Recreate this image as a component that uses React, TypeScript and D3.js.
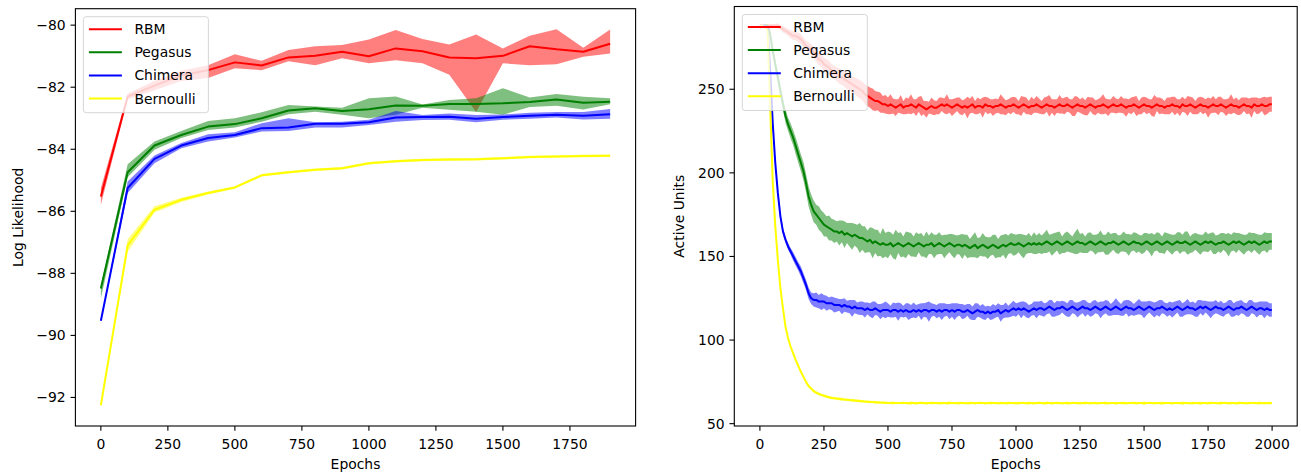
import React from 'react';
import * as d3 from 'd3';

// ---------------- Left panel: Log Likelihood ----------------
const llEpochs = [0, 100, 200, 300, 400, 500, 600, 700, 800, 900, 1000, 1100, 1200, 1300, 1400, 1500, 1600, 1700, 1800, 1900];

const rbmLL = [-85.52, -82.3, -81.95, -81.62, -81.45, -81.2, -81.3, -81.04, -80.99, -80.86, -81.0, -80.75, -80.84, -81.04, -81.07, -80.99, -80.68, -80.78, -80.86, -80.6];
const rbmLLhi = [-85.25, -82.2, -81.8, -81.47, -81.29, -80.94, -81.15, -80.8, -80.68, -80.64, -80.46, -80.16, -80.45, -80.62, -80.3, -80.75, -80.34, -80.13, -80.73, -80.14];
const rbmLLlo = [-85.79, -82.4, -82.1, -81.8, -81.7, -81.39, -81.45, -81.16, -81.29, -81.07, -81.23, -81.13, -81.23, -81.6, -82.8, -81.23, -81.29, -81.26, -81.02, -80.91];

const pegLL = [-88.49, -84.74, -83.88, -83.54, -83.27, -83.19, -83.0, -82.75, -82.68, -82.77, -82.71, -82.59, -82.6, -82.54, -82.54, -82.52, -82.48, -82.4, -82.5, -82.47];
const pegLLhi = [-88.4, -84.48, -83.75, -83.41, -83.09, -83.0, -82.81, -82.57, -82.62, -82.66, -82.36, -82.3, -82.56, -82.41, -82.36, -82.03, -82.33, -82.22, -82.31, -82.36];
const pegLLlo = [-88.8, -84.9, -84.02, -83.64, -83.38, -83.3, -83.11, -82.87, -82.79, -82.89, -83.0, -82.89, -82.66, -82.73, -82.79, -82.89, -82.64, -82.6, -82.72, -82.55];

const chiLL = [-89.53, -85.25, -84.31, -83.88, -83.64, -83.54, -83.32, -83.3, -83.18, -83.18, -83.13, -82.98, -82.96, -82.95, -83.02, -82.96, -82.92, -82.89, -82.92, -82.87];
const chiLLhi = [-89.5, -85.04, -84.2, -83.8, -83.52, -83.45, -83.16, -83.0, -83.13, -83.11, -83.05, -82.77, -82.9, -82.85, -82.9, -82.88, -82.82, -82.8, -82.8, -82.7];
const chiLLlo = [-89.56, -85.41, -84.45, -83.97, -83.75, -83.62, -83.43, -83.41, -83.3, -83.3, -83.22, -83.11, -83.06, -83.05, -83.13, -83.05, -83.02, -82.98, -83.04, -83.02];

const berLL = [-92.25, -87.1, -85.95, -85.63, -85.41, -85.23, -84.84, -84.74, -84.66, -84.61, -84.45, -84.39, -84.35, -84.33, -84.32, -84.29, -84.25, -84.23, -84.22, -84.21];
const berLLhi = [-92.22, -86.9, -85.84, -85.56, -85.36, -85.19, -84.8, -84.7, -84.62, -84.57, -84.41, -84.35, -84.31, -84.29, -84.28, -84.25, -84.21, -84.19, -84.18, -84.17];
const berLLlo = [-92.28, -87.3, -86.04, -85.7, -85.46, -85.27, -84.88, -84.78, -84.7, -84.65, -84.49, -84.43, -84.39, -84.37, -84.36, -84.33, -84.29, -84.27, -84.26, -84.25];

const llXTicks = [0, 250, 500, 750, 1000, 1250, 1500, 1750];
const llYTicks = [-92, -90, -88, -86, -84, -82, -80];

// ---------------- Right panel: Active Units ----------------
const auEpochs = [...d3.range(0, 2000, 10), 1999];

const rbmAU = [
  288, 288, 288, 288, 288, 288, 288, 288, 287, 286,
  285, 284, 283, 282, 282, 281, 280, 278, 276, 275,
  274, 272, 270, 268, 267, 265, 264, 263, 261, 260,
  259, 258, 257, 256, 255, 254, 253, 252, 251, 250,
  249, 247, 246, 245, 244, 243, 243, 242, 241, 241,
  240, 241, 240, 239, 240, 241, 239, 240, 240, 241,
  240, 239, 241, 240, 239, 238, 239, 240, 239, 239,
  240, 241, 240, 241, 240, 239, 240, 241, 240, 239,
  240, 239, 240, 241, 239, 240, 240, 239, 241, 240,
  240, 239, 240, 240, 241, 240, 239, 240, 240, 241,
  240, 239, 240, 241, 240, 239, 240, 240, 241, 240,
  239, 240, 241, 240, 240, 239, 240, 241, 240, 240,
  241, 240, 239, 240, 241, 240, 240, 239, 240, 241,
  240, 239, 240, 240, 241, 240, 239, 240, 241, 240,
  240, 241, 240, 239, 240, 240, 241, 240, 239, 240,
  241, 240, 240, 239, 240, 241, 240, 240, 239, 240,
  240, 241, 240, 240, 239, 241, 240, 240, 241, 240,
  239, 240, 241, 240, 240, 239, 240, 241, 240, 240,
  241, 240, 239, 240, 241, 240, 240, 239, 240, 241,
  240, 240, 239, 241, 240, 240, 241, 240, 240, 241, 241,
];
const rbmAUsd = [
  1, 1, 1, 1, 1, 1, 1, 1.5, 1.5, 2,
  2, 2, 2.5, 2.5, 2.5, 3, 3, 3, 3, 3,
  3, 3, 3.5, 3.5, 3.5, 4, 4, 4, 4, 4,
  4, 4.5, 4.5, 4.5, 5, 5, 5, 5, 5.5, 5.5,
  5.5, 6, 6, 6, 6.5, 6, 5.5, 6, 5, 5.5,
  5, 6, 4.5, 5, 4, 5.5, 4, 5, 4.5, 6,
  4, 5, 4.5, 6, 4, 5, 3.5, 5, 4.5, 4,
  5, 4, 4.5, 6, 4, 5, 4.5, 4, 5, 4.5,
  4, 6.5, 4.5, 5, 4, 5, 4, 6, 4.5, 5,
  4, 5, 4.5, 4, 6, 5, 4.5, 4, 5, 4.5,
  5, 4, 6, 4.5, 5, 4, 5.5, 4, 5, 4.5,
  4, 5, 4.5, 6.5, 4, 5, 4, 5.5, 4.5, 5,
  4.5, 4, 5, 6, 4.5, 4, 5, 4.5, 5.5, 4,
  5, 4.5, 4, 5, 6, 4.5, 5, 4, 5, 4.5,
  4, 5, 4.5, 5.5, 4, 5, 4.5, 6, 4, 5,
  4.5, 5, 4, 5, 6.5, 4, 5, 4.5, 4, 5,
  5, 4.5, 5.5, 4, 5, 4.5, 4, 6, 4.5, 5,
  4, 5, 4.5, 5, 4, 6, 4.5, 5, 4, 5.5,
  4.5, 4, 5, 4.5, 6, 4, 5, 4.5, 5, 4,
  5, 4.5, 6, 4, 5, 4.5, 4, 5.5, 5, 4.5, 4.5,
];

const pegAU = [
  288, 288, 288, 288, 283, 273, 265, 257, 249, 241,
  234, 229, 225, 221, 216, 211, 206, 201, 194, 186,
  181, 177, 175, 173, 171, 169, 168, 167, 166, 165,
  165, 164, 165, 163, 164, 163, 162, 163, 162, 161,
  161, 160, 159, 160, 158, 159, 158, 157, 158, 157,
  157, 158, 156, 157, 158, 157, 156, 157, 158, 157,
  156, 157, 158, 157, 156, 157, 157, 158, 156, 157,
  158, 157, 156, 157, 158, 157, 156, 157, 157, 156,
  157, 156, 155, 156, 157, 155, 156, 157, 156, 155,
  156, 157, 156, 155, 156, 157, 156, 157, 158, 157,
  157, 158, 157, 156, 157, 158, 157, 158, 157, 158,
  157, 158, 159, 158, 157, 158, 159, 158, 157, 158,
  159, 158, 157, 158, 159, 158, 158, 157, 158, 159,
  158, 157, 158, 159, 158, 157, 158, 158, 159, 158,
  157, 158, 159, 158, 157, 158, 159, 158, 158, 157,
  158, 159, 158, 157, 158, 159, 158, 157, 158, 159,
  158, 157, 158, 159, 158, 158, 159, 158, 157, 158,
  159, 158, 157, 158, 159, 158, 159, 158, 157, 158,
  158, 159, 158, 157, 158, 159, 158, 159, 158, 157,
  158, 159, 158, 159, 158, 157, 158, 159, 158, 159, 159,
];
const pegAUsd = [
  0.5, 0.5, 1, 1, 2, 2.5, 3, 3, 3.5, 3.5,
  4, 4, 4.5, 4.5, 5, 5, 5, 5.5, 5.5, 6,
  6, 6.5, 6, 7, 6.5, 7, 6, 7.5, 6.5, 7,
  6, 7.5, 6.5, 8, 6, 7, 8, 6.5, 7, 9,
  7, 8, 6.5, 7.5, 9, 7, 8, 6.5, 9, 7,
  8, 6.5, 7, 9, 6, 7.5, 6, 8, 6.5, 7,
  6, 7.5, 5.5, 7, 6, 8, 5.5, 6.5, 7, 6,
  6.5, 5.5, 7, 6, 5.5, 6.5, 7, 5.5, 6, 7.5,
  6, 7, 5.5, 6.5, 7.5, 6, 5.5, 7, 6, 6.5,
  5.5, 6, 7, 5.5, 6.5, 6, 7.5, 5.5, 6, 6.5,
  6, 5.5, 6.5, 7, 5.5, 6, 5, 6.5, 5.5, 6,
  5.5, 6, 7, 5, 6.5, 6, 5.5, 7, 5, 6,
  6, 5.5, 5, 6.5, 7.5, 5.5, 6, 5, 6, 5.5,
  5, 6, 5.5, 6.5, 5, 6, 7, 5.5, 5, 6,
  5.5, 5, 6, 5.5, 6.5, 5, 5.5, 6, 5, 5.5,
  6, 5, 5.5, 7, 5, 5.5, 6, 5, 6.5, 5,
  5.5, 6, 5, 5.5, 6.5, 5, 6, 7, 5, 5.5,
  5, 5.5, 6, 5, 6, 5.5, 5, 6.5, 5.5, 5,
  6, 5, 5.5, 7, 5, 5.5, 6, 5, 5.5, 6,
  5, 5.5, 6, 5, 5.5, 6, 5, 5.5, 6, 5, 5,
];

const chiAU = [
  288, 288, 288, 286, 262, 230, 206, 188, 174, 165,
  160, 156, 153, 150, 147, 144, 141, 137, 133, 128,
  125, 124, 124, 123, 123, 123, 122, 122, 122, 121,
  121, 121, 120, 121, 120, 120, 119, 120, 119, 119,
  119, 118, 119, 118, 118, 119, 118, 117, 118, 118,
  118, 117, 118, 118, 117, 118, 117, 118, 117, 117,
  118, 117, 118, 117, 118, 118, 117, 118, 118, 117,
  118, 117, 118, 118, 117, 118, 117, 118, 118, 117,
  117, 118, 117, 116, 117, 118, 117, 117, 116, 117,
  116, 117, 117, 118, 116, 117, 118, 117, 118, 119,
  118, 119, 118, 119, 118, 117, 118, 119, 118, 119,
  119, 118, 119, 120, 119, 118, 119, 119, 120, 119,
  118, 119, 120, 119, 118, 119, 120, 119, 119, 118,
  119, 120, 119, 118, 119, 120, 119, 118, 119, 120,
  119, 118, 119, 120, 119, 119, 118, 119, 120, 119,
  118, 119, 120, 119, 118, 119, 119, 120, 119, 118,
  119, 118, 119, 120, 119, 118, 119, 120, 119, 119,
  118, 119, 120, 119, 120, 119, 118, 119, 120, 119,
  119, 118, 119, 120, 119, 118, 119, 119, 120, 119,
  118, 119, 120, 119, 118, 119, 119, 118, 119, 118, 118,
];
const chiAUsd = [
  0.5, 0.5, 0.5, 1, 1.5, 2, 2, 2, 2, 2,
  2, 2, 2, 2.5, 2.5, 2.5, 3, 3, 3, 3.5,
  3.5, 4, 4.5, 4, 5, 4, 4.5, 3.5, 4, 4.5,
  4, 3.5, 4.5, 4, 3.5, 4, 5, 4, 3.5, 4,
  4, 4.5, 3.5, 4, 5, 4, 3.5, 4.5, 4, 5,
  4, 3.5, 4.5, 4, 5.5, 4, 3.5, 4, 5, 4,
  4.5, 4, 3.5, 5, 4, 4.5, 6, 4, 3.5, 4,
  4, 5, 4, 3.5, 4.5, 4, 5, 4, 3.5, 4.5,
  4, 3.5, 4.5, 4, 5, 4, 3.5, 4.5, 4, 3.5,
  4, 4.5, 3.5, 4, 5, 4, 4.5, 3.5, 4, 4.5,
  4, 3.5, 5, 4, 4.5, 4, 3.5, 4, 5, 4,
  4.5, 4, 3.5, 4, 5, 4, 4.5, 4, 3.5, 4,
  4, 5, 4, 3.5, 4.5, 4, 4, 5, 3.5, 4,
  4.5, 4, 3.5, 5, 4, 4, 4.5, 3.5, 4, 5,
  4, 3.5, 4.5, 4, 5, 4, 3.5, 4, 4.5, 4,
  5, 4, 3.5, 4, 4.5, 4, 5, 4, 3.5, 4,
  4, 4.5, 4, 3.5, 5, 4, 4, 4.5, 3.5, 4,
  4, 5, 4, 4.5, 3.5, 4, 5, 4, 4, 3.5,
  4.5, 4, 3.5, 4, 5, 4, 4, 4.5, 4, 3.5,
  4, 5, 4, 3.5, 4.5, 4, 4, 5, 4, 4, 4,
];

const berAU = [
  288, 288, 287, 285, 240, 195, 168, 148, 131, 119,
  108, 101, 96, 92, 88, 84.5, 81, 78, 75, 72.5,
  71, 69.5, 68.5, 67.8, 67.2, 66.7, 66.2, 65.8, 65.4, 65.2,
  65, 64.8, 64.6, 64.4, 64.3, 64.1, 64, 63.8, 63.7, 63.5,
  63.4, 63.2, 63.1, 63, 62.9, 62.8, 62.7, 62.6, 62.5, 62.5,
  62.4, 62.4, 62.3, 62.4, 62.3, 62.3, 62.4, 62.3, 62.2, 62.3,
  62.3, 62.2, 62.3, 62.4, 62.3, 62.2, 62.3, 62.3, 62.4, 62.3,
  62.2, 62.3, 62.3, 62.2, 62.4, 62.3, 62.3, 62.2, 62.3, 62.4,
  62.3, 62.2, 62.3, 62.3, 62.2, 62.3, 62.4, 62.3, 62.2, 62.3,
  62.3, 62.4, 62.3, 62.2, 62.3, 62.3, 62.2, 62.4, 62.3, 62.3,
  62.2, 62.3, 62.3, 62.4, 62.2, 62.3, 62.3, 62.2, 62.3, 62.4,
  62.3, 62.2, 62.3, 62.3, 62.2, 62.4, 62.3, 62.3, 62.2, 62.3,
  62.3, 62.2, 62.4, 62.3, 62.3, 62.2, 62.3, 62.3, 62.4, 62.2,
  62.3, 62.3, 62.2, 62.3, 62.4, 62.3, 62.2, 62.3, 62.3, 62.2,
  62.4, 62.3, 62.3, 62.2, 62.3, 62.3, 62.4, 62.2, 62.3, 62.3,
  62.2, 62.3, 62.4, 62.3, 62.2, 62.3, 62.3, 62.2, 62.4, 62.3,
  62.3, 62.2, 62.3, 62.3, 62.4, 62.2, 62.3, 62.3, 62.2, 62.3,
  62.4, 62.3, 62.2, 62.3, 62.3, 62.2, 62.4, 62.3, 62.3, 62.2,
  62.3, 62.3, 62.4, 62.2, 62.3, 62.3, 62.2, 62.3, 62.4, 62.3,
  62.2, 62.3, 62.3, 62.4, 62.2, 62.3, 62.3, 62.2, 62.3, 62.3, 62.3,
];
const berAUsd = [
  0.3, 0.3, 0.5, 0.8, 1, 1, 1, 1, 1, 1,
  0.8, 0.8, 0.8, 0.8, 0.8, 0.8, 0.8, 0.8, 0.8, 0.8,
  0.8, 0.8, 0.9, 0.8, 0.7, 0.8, 0.9, 0.7, 0.8, 0.8,
  0.7, 0.8, 0.9, 0.7, 0.8, 0.7, 0.9, 0.8, 0.7, 0.8,
  0.7, 0.6, 0.8, 0.7, 0.6, 0.9, 0.7, 0.6, 0.8, 0.7,
  0.6, 0.7, 0.9, 0.6, 0.7, 0.6, 0.8, 0.6, 0.7, 1,
  0.6, 0.7, 0.6, 0.8, 0.6, 0.7, 0.6, 0.9, 0.6, 0.7,
  0.6, 0.8, 0.6, 0.7, 1, 0.6, 0.7, 0.6, 0.8, 0.6,
  0.7, 0.6, 0.9, 0.6, 0.7, 0.6, 0.8, 0.6, 0.7, 0.6,
  1, 0.6, 0.7, 0.6, 0.8, 0.6, 0.7, 0.9, 0.6, 0.7,
  0.6, 0.8, 0.6, 0.7, 0.6, 1, 0.6, 0.7, 0.6, 0.8,
  0.6, 0.7, 0.9, 0.6, 0.7, 0.6, 0.8, 0.6, 0.7, 0.6,
  1, 0.6, 0.7, 0.6, 0.8, 0.6, 0.7, 0.9, 0.6, 0.7,
  0.6, 0.8, 0.6, 0.7, 0.6, 1, 0.6, 0.7, 0.6, 0.8,
  0.6, 0.7, 0.9, 0.6, 0.7, 0.6, 0.8, 0.6, 0.7, 0.6,
  1, 0.6, 0.7, 0.6, 0.8, 0.6, 0.7, 0.9, 0.6, 0.7,
  0.6, 0.8, 0.6, 0.7, 0.6, 1, 0.6, 0.7, 0.6, 0.8,
  0.6, 0.7, 0.9, 0.6, 0.7, 0.6, 0.8, 0.6, 0.7, 0.6,
  1, 0.6, 0.7, 0.6, 0.8, 0.6, 0.7, 0.9, 0.6, 0.7,
  0.6, 0.8, 0.6, 0.7, 0.6, 1, 0.6, 0.7, 0.6, 0.8, 0.7,
];

const auXTicks = [0, 250, 500, 750, 1000, 1250, 1500, 1750, 2000];
const auYTicks = [50, 100, 150, 200, 250];

const seriesNames = ['RBM', 'Pegasus', 'Chimera', 'Bernoulli'];
const seriesColors = ['red', 'green', 'blue', 'yellow'];

// ---------------- Rendering ----------------
const FONT = '"DejaVu Sans", sans-serif';
const FS = 13.9;
const TICK = 4.86;

type Band = { mean: number[]; lo: number[]; hi: number[] };

type PanelProps = {
  box: { x0: number; x1: number; y0: number; y1: number };
  xDomain: [number, number];
  yDomain: [number, number];
  xTicks: number[];
  yTicks: number[];
  epochs: number[];
  bands: Band[];
  yLabel: string;
  yLabelX: number;
};

const fmt = (v: number) => (v < 0 ? '\u2212' + Math.abs(v) : String(v));

function Panel({ box, xDomain, yDomain, xTicks, yTicks, epochs, bands, yLabel, yLabelX }: PanelProps) {
  const x = d3.scaleLinear().domain(xDomain).range([box.x0, box.x1]);
  const y = d3.scaleLinear().domain(yDomain).range([box.y1, box.y0]);
  const area = (b: Band) =>
    d3
      .area<number>()
      .x((_, i) => x(epochs[i]))
      .y0((_, i) => y(b.lo[i]))
      .y1((_, i) => y(b.hi[i]))(b.mean) || '';
  const line = (b: Band) =>
    d3
      .line<number>()
      .x((_, i) => x(epochs[i]))
      .y((v) => y(v))(b.mean) || '';
  const lx = box.x0 + 8;
  const ly = box.y0 + 8;
  const cx = (box.x0 + box.x1) / 2;
  const cy = (box.y0 + box.y1) / 2;
  return (
    <g>
      {bands.map((b, i) => (
        <g key={i}>
          <path d={area(b)} fill={seriesColors[i]} fillOpacity={0.5} stroke="none" />
          <path d={line(b)} fill="none" stroke={seriesColors[i]} strokeWidth={2} strokeLinejoin="round" />
        </g>
      ))}
      {/* spines */}
      <rect x={box.x0} y={box.y0} width={box.x1 - box.x0} height={box.y1 - box.y0} fill="none" stroke="black" strokeWidth={1.1} />
      {/* x ticks */}
      {xTicks.map((t) => (
        <g key={'x' + t}>
          <line x1={x(t)} x2={x(t)} y1={box.y1} y2={box.y1 + TICK} stroke="black" strokeWidth={1.1} />
          <text x={x(t)} y={box.y1 + 23.3} textAnchor="middle" fontFamily={FONT} fontSize={FS}>
            {fmt(t)}
          </text>
        </g>
      ))}
      {yTicks.map((t) => (
        <g key={'y' + t}>
          <line x1={box.x0 - TICK} x2={box.x0} y1={y(t)} y2={y(t)} stroke="black" strokeWidth={1.1} />
          <text x={box.x0 - 9.7} y={y(t) + 5} textAnchor="end" fontFamily={FONT} fontSize={FS}>
            {fmt(t)}
          </text>
        </g>
      ))}
      <text x={cx} y={469} textAnchor="middle" fontFamily={FONT} fontSize={FS}>
        Epochs
      </text>
      <text
        transform={`translate(${yLabelX},${cy}) rotate(-90)`}
        textAnchor="middle"
        fontFamily={FONT}
        fontSize={FS}
      >
        {yLabel}
      </text>
      {/* legend */}
      <g>
        <rect x={lx} y={ly} width={125} height={96} rx={2.8} fill="white" fillOpacity={0.8} stroke="#cccccc" strokeOpacity={0.8} strokeWidth={1} />
        {seriesNames.map((n, i) => {
          const yy = ly + 12.5 + i * 23.1;
          return (
            <g key={n}>
              <line x1={lx + 5.5} x2={lx + 38.5} y1={yy} y2={yy} stroke={seriesColors[i]} strokeWidth={2} />
              <text x={lx + 51} y={yy + 5} fontFamily={FONT} fontSize={FS}>
                {n}
              </text>
            </g>
          );
        })}
      </g>
    </g>
  );
}

export default function App() {
  const llBands: Band[] = [
    { mean: rbmLL, lo: rbmLLlo, hi: rbmLLhi },
    { mean: pegLL, lo: pegLLlo, hi: pegLLhi },
    { mean: chiLL, lo: chiLLlo, hi: chiLLhi },
    { mean: berLL, lo: berLLlo, hi: berLLhi },
  ];
  const mk = (m: number[], s: number[]): Band => ({
    mean: m,
    lo: m.map((v, i) => v - s[i]),
    hi: m.map((v, i) => v + s[i]),
  });
  const auBands: Band[] = [mk(rbmAU, rbmAUsd), mk(pegAU, pegAUsd), mk(chiAU, chiAUsd), mk(berAU, berAUsd)];
  return (
    <svg width={1301} height={474} style={{ position: 'absolute', left: 0, top: 0, background: 'white' }}>
      <rect x={0} y={0} width={1301} height={474} fill="white" />
      <Panel
        box={{ x0: 75.4, x1: 635.6, y0: 8.7, y1: 426 }}
        xDomain={[-95, 1995]}
        yDomain={[-92.92, -79.47]}
        xTicks={llXTicks}
        yTicks={llYTicks}
        epochs={llEpochs}
        bands={llBands}
        yLabel="Log Likelihood"
        yLabelX={23}
      />
      <Panel
        box={{ x0: 734.3, x1: 1297.2, y0: 6.5, y1: 426 }}
        xDomain={[-100, 2098]}
        yDomain={[48.6, 299.5]}
        xTicks={auXTicks}
        yTicks={auYTicks}
        epochs={auEpochs}
        bands={auBands}
        yLabel="Active Units"
        yLabelX={684}
      />
    </svg>
  );
}
